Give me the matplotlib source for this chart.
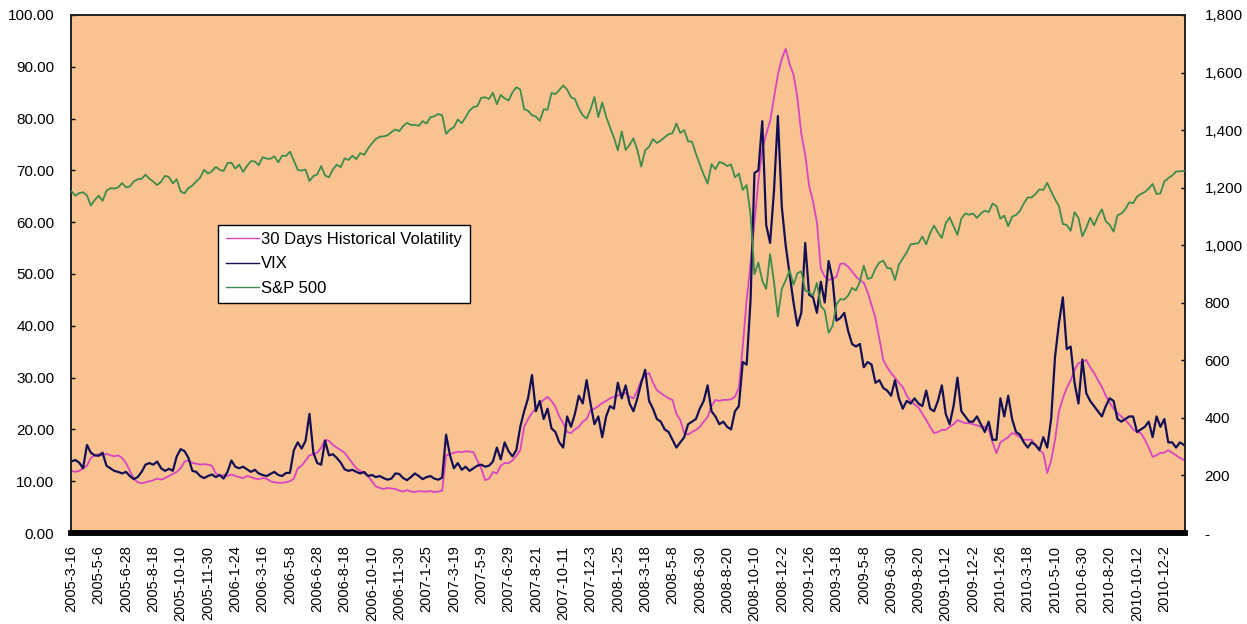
import numpy as np
import matplotlib
matplotlib.use("Agg")
import matplotlib.pyplot as plt
from matplotlib.ticker import FuncFormatter, MultipleLocator

plt.rcParams['font.family'] = ['Liberation Sans', 'DejaVu Sans']

# Category labels shown on the x axis (one every 35 trading days)
date_labels = [
    "2005-3-16", "2005-5-6", "2005-6-28", "2005-8-18", "2005-10-10", "2005-11-30",
    "2006-1-24", "2006-3-16", "2006-5-8", "2006-6-28", "2006-8-18", "2006-10-10",
    "2006-11-30", "2007-1-25", "2007-3-19", "2007-5-9", "2007-6-29", "2007-8-21",
    "2007-10-11", "2007-12-3", "2008-1-25", "2008-3-18", "2008-5-8", "2008-6-30",
    "2008-8-20", "2008-10-10", "2008-12-2", "2009-1-26", "2009-3-18", "2009-5-8",
    "2009-6-30", "2009-8-20", "2009-10-12", "2009-12-2", "2010-1-26", "2010-3-18",
    "2010-5-10", "2010-6-30", "2010-8-20", "2010-10-12", "2010-12-2",
]
label_step = 35        # trading days between labels
n_categories = 1427    # trading days on the category axis
sample_step = 5        # weekly samples

# 30-day historical volatility of the S&P 500 (%), weekly
hist_vol = [
    12.0, 11.8, 12.0, 12.5, 13.0, 14.5, 15.0,
    15.2, 15.0, 15.3, 15.0, 14.8, 15.0, 14.5,
    13.5, 12.0, 10.5, 9.8, 9.6, 9.8, 10.0,
    10.2, 10.5, 10.3, 10.6, 11.0, 11.4, 11.8,
    12.5, 13.8, 14.0, 13.5, 13.4, 13.2, 13.3,
    13.2, 13.0, 11.5, 11.0, 11.2, 11.0, 11.3,
    11.0, 10.8, 10.6, 11.0, 10.8, 10.5, 10.4,
    10.6, 10.5, 10.0, 9.8, 9.7, 9.7, 9.8,
    10.0, 10.5, 12.5, 13.0, 14.0, 15.0, 15.2,
    15.5, 16.5, 18.0, 17.8, 17.0, 16.5, 16.0,
    15.5, 14.5, 13.5, 12.5, 12.0, 11.5, 11.0,
    10.0, 9.0, 8.7, 8.5, 8.7, 8.6, 8.5,
    8.2, 8.0, 8.3, 8.0, 7.9, 8.1, 8.0,
    8.0, 8.1, 7.9, 8.0, 8.2, 15.0, 15.2,
    15.5, 15.7, 15.6, 15.8, 15.7, 15.6, 14.0,
    12.5, 10.2, 10.5, 11.8, 11.5, 13.0, 13.5,
    13.5, 14.0, 14.9, 16.0, 20.5, 22.0, 23.2,
    24.0, 25.0, 25.7, 26.3, 25.5, 24.4, 22.5,
    21.2, 19.5, 19.3, 20.0, 20.5, 21.5, 22.0,
    23.7, 24.0, 24.5, 25.1, 25.5, 26.0, 26.3,
    26.5, 27.0, 27.0, 26.3, 26.0, 27.5, 29.5,
    30.5, 30.9, 29.0, 27.6, 27.0, 26.5, 26.0,
    25.7, 23.0, 21.8, 19.3, 19.0, 19.5, 19.9,
    20.5, 21.5, 22.4, 24.5, 25.7, 25.5, 25.7,
    25.7, 25.8, 26.3, 28.0, 36.0, 45.0, 52.0,
    60.0, 68.0, 74.0, 77.0, 79.5, 84.0, 88.5,
    91.5, 93.5, 90.5, 88.5, 84.0, 77.0, 73.0,
    67.0, 64.0, 60.0, 51.0, 49.5, 48.8, 49.2,
    49.4, 52.0, 52.0, 51.4, 50.5, 49.5, 48.8,
    48.3, 46.5, 44.0, 41.5, 37.5, 33.4, 32.0,
    30.9, 30.0, 29.0, 28.2, 26.5, 25.5, 24.8,
    24.3, 23.0, 21.8, 20.5, 19.3, 19.5, 19.9,
    19.9, 20.5, 21.0, 21.8, 21.5, 21.2, 21.2,
    21.0, 20.8, 20.5, 20.5, 20.0, 17.5, 15.4,
    17.5, 18.0, 18.5, 19.3, 19.0, 18.5, 18.0,
    18.0, 18.0, 17.0, 16.0, 15.4, 11.6, 14.0,
    18.0, 23.5, 26.0, 28.0, 29.5, 31.5, 32.8,
    33.0, 33.4, 32.0, 30.9, 29.5, 28.2, 26.5,
    25.1, 24.0, 23.2, 22.5, 21.8, 21.0, 20.0,
    19.5, 19.3, 18.0, 16.5, 14.7, 15.0, 15.5,
    15.5, 16.0, 15.5, 15.0, 14.5, 14.1,
]

# CBOE VIX index, weekly
vix = [
    13.8, 14.1, 13.6, 12.5, 17.0, 15.5, 15.0,
    14.9, 15.5, 13.0, 12.5, 12.0, 11.8, 11.5,
    11.8, 11.0, 10.4, 10.8, 11.8, 13.2, 13.5,
    13.2, 13.8, 12.5, 12.0, 12.4, 12.0, 14.8,
    16.2, 15.8, 14.5, 12.0, 11.8, 11.0, 10.6,
    11.0, 11.3, 10.8, 11.2, 10.5, 11.8, 14.0,
    12.8, 12.5, 12.8, 12.3, 11.8, 12.2, 11.5,
    11.2, 11.0, 11.4, 11.8, 11.2, 11.0, 11.6,
    11.6, 16.0, 17.5, 16.3, 17.8, 23.0, 15.5,
    13.5, 13.2, 17.8, 15.0, 15.2, 14.5, 13.6,
    12.3, 12.0, 12.2, 11.8, 11.5, 11.8, 11.0,
    11.2, 10.8, 11.0, 10.6, 10.3, 10.5, 11.5,
    11.4, 10.6, 10.2, 10.8, 11.5, 11.0, 10.4,
    10.8, 11.0, 10.5, 10.3, 10.7, 19.0, 15.0,
    12.5, 13.5, 12.2, 12.8, 12.0, 12.5, 13.0,
    13.2, 12.8, 13.0, 13.8, 16.5, 14.2, 17.5,
    15.8, 14.8, 16.0, 20.5, 23.5, 26.0, 30.5,
    23.5, 25.5, 22.0, 24.0, 20.2, 19.5, 17.5,
    16.5, 22.5, 20.5, 23.0, 26.5, 25.0, 29.5,
    25.0, 21.0, 22.5, 18.5, 22.5, 24.5, 24.0,
    29.0, 26.0, 28.5, 25.0, 23.5, 26.0, 29.0,
    31.5, 25.5, 24.0, 22.0, 21.5, 20.0, 19.5,
    18.0, 16.5, 17.5, 18.5, 21.0, 21.5, 22.0,
    24.0, 25.5, 28.5, 23.5, 22.5, 21.0, 21.5,
    20.5, 20.0, 23.5, 24.5, 33.0, 32.5, 45.0,
    69.5, 70.0, 79.5, 59.5, 56.0, 66.0, 80.5,
    63.0, 55.5, 50.0, 44.5, 40.0, 42.5, 56.0,
    46.0, 45.5, 42.5, 48.5, 44.5, 52.5, 49.0,
    41.0, 41.5, 42.5, 39.0, 36.5, 36.0, 36.5,
    32.0, 33.0, 32.5, 29.0, 29.5, 28.0, 27.5,
    26.5, 29.5, 26.0, 24.0, 25.5, 25.0, 26.0,
    25.0, 24.5, 27.5, 24.0, 23.5, 25.5, 28.5,
    23.0, 21.0, 24.5, 30.0, 23.5, 22.5, 21.5,
    21.5, 22.5, 21.0, 19.5, 21.5, 18.0, 18.0,
    26.0, 22.5, 26.5, 22.0, 19.5, 19.0, 17.5,
    16.5, 17.5, 17.0, 16.0, 18.5, 16.5, 22.0,
    34.0, 40.5, 45.5, 35.5, 36.0, 29.0, 25.0,
    33.5, 27.0, 25.5, 24.5, 23.5, 22.5, 24.5,
    26.0, 25.5, 22.0, 21.5, 22.0, 22.5, 22.5,
    19.5, 20.0, 20.5, 21.5, 18.5, 22.5, 20.5,
    22.0, 17.5, 17.5, 16.5, 17.5, 17.0,
]

# S&P 500 closing level, weekly (right axis)
spx = [
    1188, 1172, 1181, 1184, 1173, 1138, 1157,
    1172, 1154, 1189, 1198, 1197, 1201, 1216,
    1201, 1204, 1222, 1229, 1231, 1245, 1231,
    1221, 1209, 1221, 1241, 1237, 1215, 1229,
    1187, 1180, 1199, 1207, 1222, 1235, 1262,
    1249, 1257, 1272, 1262, 1258, 1285, 1287,
    1266, 1280, 1255, 1275, 1292, 1291, 1278,
    1306, 1301, 1300, 1309, 1288, 1311, 1310,
    1325, 1294, 1262, 1259, 1263, 1223, 1240,
    1246, 1275, 1242, 1236, 1263, 1280, 1271,
    1302, 1296, 1311, 1299, 1320, 1314, 1336,
    1354, 1369, 1377, 1378, 1382, 1393, 1402,
    1396, 1414, 1425, 1418, 1418, 1415, 1431,
    1423, 1445, 1448, 1456, 1451, 1387, 1402,
    1410, 1437, 1424, 1444, 1468, 1480, 1483,
    1512, 1514, 1508, 1530, 1490, 1522, 1510,
    1503, 1531, 1549, 1541, 1473, 1467, 1452,
    1447, 1432, 1472, 1471, 1529, 1525, 1539,
    1555, 1541, 1514, 1508, 1475, 1452, 1440,
    1472, 1515, 1445, 1496, 1447, 1409, 1374,
    1330, 1395, 1331, 1349, 1371, 1331, 1273,
    1330, 1342, 1369, 1355, 1364, 1375, 1386,
    1389, 1423, 1390, 1400, 1361, 1360, 1318,
    1280, 1245, 1214, 1282, 1264, 1289, 1285,
    1275, 1281, 1236, 1249, 1192, 1209, 1106,
    899, 940, 877, 848, 969, 873, 752,
    848, 878, 913, 863, 903, 909, 843,
    836, 825, 869, 789, 773, 696, 719,
    794, 813, 811, 825, 852, 843, 873,
    929, 883, 887, 919, 940, 946, 921,
    919, 879, 932, 954, 975, 1003, 1005,
    1007, 1030, 1003, 1042, 1068, 1044, 1025,
    1076, 1097, 1066, 1036, 1093, 1110, 1106,
    1110, 1095, 1110, 1120, 1115, 1145, 1136,
    1092, 1103, 1066, 1099, 1105, 1119, 1145,
    1166, 1166, 1178, 1194, 1192, 1217, 1187,
    1160, 1136, 1074, 1070, 1050, 1115, 1095,
    1031, 1060, 1096, 1069, 1101, 1125, 1083,
    1071, 1047, 1104, 1110, 1125, 1149, 1146,
    1169, 1178, 1185, 1197, 1213, 1178, 1180,
    1221, 1233, 1242, 1256, 1257, 1258,
]

x = np.arange(len(vix)) * sample_step

fig = plt.figure(figsize=(12.47, 6.24), dpi=100, facecolor="white")
ax = fig.add_axes([0.0569, 0.1458, 0.8934, 0.8302])
ax.set_facecolor("#F9C391")
ax2 = ax.twinx()
ax2.patch.set_visible(False)

l1, = ax.plot(x, hist_vol, color="#D845C2", lw=1.3, label="30 Days Historical Volatility", zorder=3)
l2, = ax.plot(x, vix, color="#140F55", lw=1.6, label="VIX", zorder=4)
l3, = ax2.plot(x, spx, color="#3E8C4A", lw=1.3, label="S&P 500", zorder=5)

ax.set_xlim(-0.5, n_categories - 0.5)
ax.set_ylim(0, 100)
ax2.set_ylim(0, 1800)

ax.yaxis.set_major_locator(MultipleLocator(10))
ax.yaxis.set_major_formatter(FuncFormatter(lambda v, p: f"{v:.2f}"))
ax2.yaxis.set_major_locator(MultipleLocator(200))
ax2.yaxis.set_major_formatter(FuncFormatter(lambda v, p: "-" if v == 0 else f"{v:,.0f}"))

ax.set_xticks(np.arange(len(date_labels)) * label_step)
ax.set_xticklabels(date_labels, rotation=90, fontsize=10.5)
ax.tick_params(axis="x", length=0, pad=9)
ax.tick_params(axis="y", direction="in", length=3, width=1, labelsize=11, pad=12)
ax2.tick_params(axis="y", direction="in", length=3, width=1, labelsize=11, pad=14)

for a in (ax, ax2):
    for side in ("left", "right", "top"):
        a.spines[side].set_color("#222222")
        a.spines[side].set_linewidth(1.2)
    a.spines["bottom"].set_color("black")
    a.spines["bottom"].set_linewidth(4)

leg = ax2.legend(handles=[l1, l2, l3], loc="upper left", bbox_to_anchor=(0.132, 0.595),
                 borderaxespad=0, fontsize=12, frameon=True, fancybox=False,
                 handlelength=2.0, handletextpad=0.15, labelspacing=0.55,
                 borderpad=0.45, framealpha=1)
leg.get_frame().set_edgecolor("black")
leg.get_frame().set_linewidth(1.0)
for h in leg.get_lines():
    h.set_linewidth(1.0)

fig.savefig("out.png", dpi=100, facecolor="white")
